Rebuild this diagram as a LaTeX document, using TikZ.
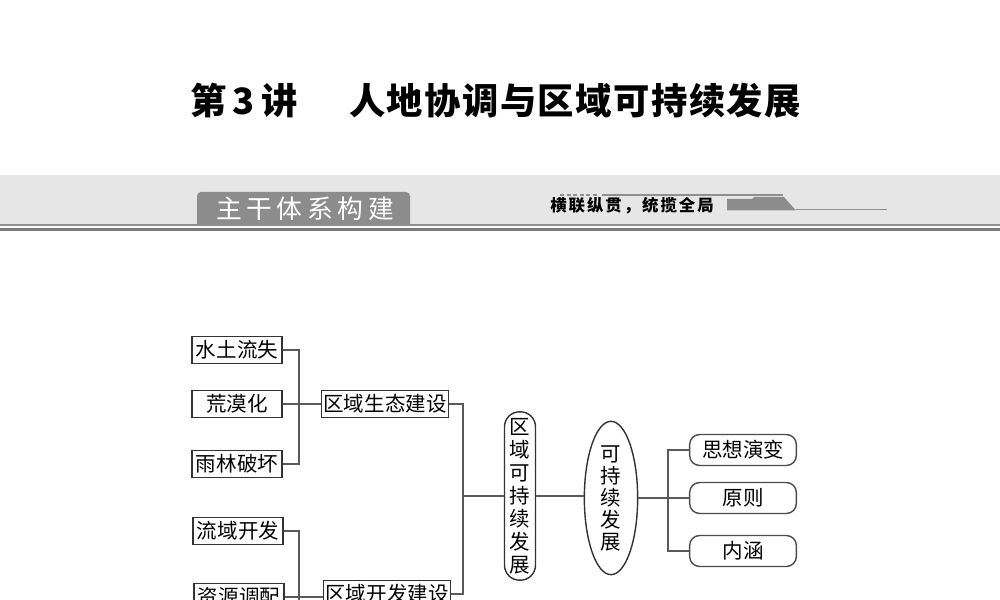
\documentclass[tikz,border=0pt]{standalone}
\usepackage{fontspec}
\newfontfamily\cjk{Noto Sans CJK SC}
\usetikzlibrary{shapes.geometric}
\definecolor{band}{HTML}{E6E6E6}
\definecolor{tabgray}{HTML}{8C8C8C}
\definecolor{rulegray}{HTML}{8F8F8F}
\definecolor{wire}{HTML}{5A5A5A}

\begin{document}
\begin{tikzpicture}[x=0.03cm, y=-0.03cm, font=\cjk,
  leaf/.style={rectangle, draw=black!80, line width=1.2pt, inner sep=1pt,
    minimum height=0.8cm, minimum width=2.7cm,
    font=\cjk\fontsize{17.5pt}{20pt}\selectfont},
  hub/.style={leaf, minimum width=3.8cm},
  pill/.style={leaf, draw=black!70, rounded corners=0.3cm,
    minimum width=3.2cm, minimum height=0.93cm},
  vpill/.style={leaf, rounded corners=0.45cm, align=center, inner sep=0pt,
    minimum width=0.93cm, minimum height=5.05cm,
    font=\cjk\fontsize{17.5pt}{19.6pt}\selectfont},
  oval/.style={ellipse, draw=black!80, line width=1.2pt, inner sep=0pt,
    minimum width=1.6cm, minimum height=4.6cm, align=center,
    font=\cjk\fontsize{17.5pt}{18.8pt}\selectfont},
  link/.style={draw=wire, line width=1.1pt}]
\fill[white] (0,0) rectangle (1000,600);
\useasboundingbox (0,0) rectangle (1000,600);
\clip (0,0) rectangle (1000,600);

% title
\node[font=\cjk\bfseries\fontsize{31pt}{36pt}\selectfont] (lesson) at (244,101) {第\,3\,讲};
\node[font={\cjk\bfseries\fontsize{31pt}{36pt}\selectfont\addfontfeature{LetterSpace=4}}] (theme) at (575,101) {人地协调与区域可持续发展};

% banner
\fill[band] (0,175) rectangle (1000,224.5);
\fill[rulegray] (0,224.5) rectangle (1000,226.5);
\fill[rulegray!85!black] (0,228.5) rectangle (1000,231);
\fill[tabgray] (197,224.5) [rounded corners=0.12cm] -- (197,192) -- (410,192) [sharp corners] -- (410,224.5) -- cycle;
\node[text=white, font={\cjk\fontsize{22pt}{24pt}\selectfont\addfontfeature{LetterSpace=18}}] (tab) at (305,209) {主干体系构建};
\node[font={\cjk\bfseries\fontsize{14pt}{16pt}\selectfont\addfontfeature{LetterSpace=12}}] (motto) at (632,206) {横联纵贯，统揽全局};
\foreach \i in {0,...,5}
  \fill[rulegray] (560+\i*6.5,194) rectangle ++(4,2.5);
\fill[rulegray] (602,194) rectangle (783,196.5);
\fill[tabgray] (727,199) -- (752,199) -- (754,197) -- (784,197) -- (796,210.5) -- (727,210.5) -- cycle;
\draw[rulegray, line width=0.8pt] (796,209.5) -- (887,209.5);

% left groups
\node[leaf] (soil) at (237,350) {水土流失};
\node[leaf] (desert) at (237,404) {荒漠化};
\node[leaf] (forest) at (237,464) {雨林破坏};
\node[hub] (eco) at (385,404) {区域生态建设};
\node[leaf] (basin) at (238,531) {流域开发};
\node[leaf] (alloc) at (239,597) {资源调配};
\node[hub] (dev) at (387,594) {区域开发建设};

% centre
\node[vpill] (reg) at (520,496) {区\\域\\可\\持\\续\\发\\展};
\node[oval] (sus) at (611,498) {可\\持\\续\\发\\展};

% right group
\node[pill] (idea) at (743,450) {思想演变};
\node[pill] (principle) at (743,498) {原则};
\node[pill] (meaning) at (743,551) {内涵};

\coordinate (j1) at (299,404);
\coordinate (j2) at (299,660);
\coordinate (jm) at (463,496);
\coordinate (jr) at (668,498);

\draw[link] (soil.east) -| (j1) |- (forest.east);
\draw[link] (desert.east) -- (eco.west);
\draw[link] (basin.east) -| (j2);
\draw[link] (alloc.east) -- (alloc.east -| dev.west);
\draw[link] (eco.east) -| (jm) |- (dev.east);
\draw[link] (jm) -- (reg.west);
\draw[link] (reg.east) -- (reg.east -| sus.west);
\draw[link] (idea.west) -| (jr) |- (meaning.west);
\draw[link] (sus.east) -- (principle.west);
\end{tikzpicture}
\end{document}
